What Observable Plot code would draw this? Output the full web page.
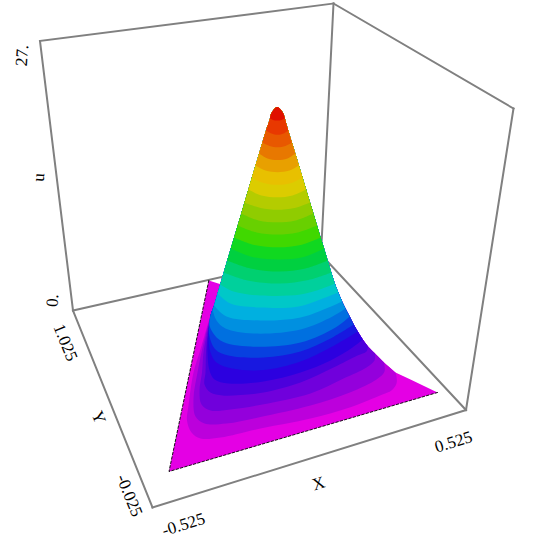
<!DOCTYPE html>
<html>
<head>
<meta charset="utf-8">
<style>html,body{margin:0;padding:0;background:#fff}svg{display:block}</style>
<script src="https://cdn.jsdelivr.net/npm/d3@7"></script>
<script src="https://cdn.jsdelivr.net/npm/@observablehq/plot@0.6"></script>
</head>
<body>
<div id="chart"></div>
<script>
// Tick and axis labels
const axisLabels = ["27.", "u", "0.", "1.025", "Y", "-0.025", "-0.525", "X", "0.525"];

// Box corners
const boxCorners = {A:[39.5,40.5], B:[333,3], C:[513,108], D:[465.5,409.5], E:[152,507], F:[72.5,310], G:[320.5,254]};
const boxEdges = ["AB","BC","CD","AF","FE","ED","FG","GD","BG"];

// Band colours, from u = 0 up to the peak
const bandColors = ["#e400e4","#bc00dc","#9400dc","#7000dc","#4c00dc","#2c00e0","#1818e0","#0840e0","#0070e0","#0090e0","#00b0e0","#00c8c8","#00d09c","#00d070","#00d040","#10d820","#40d800","#68d000","#90cc00","#b4cc00","#dccc00","#e8c000","#e8a000","#e87800","#e85800","#e83800","#e01000"];

// Outline of the surface
const apex = [276.7,106.5];
const leftSilhouette = [[273,109.5],[270.5,113.5],[269.5,118],[265.5,130],[261.9,142],[258.6,153],[255,165],[251.4,177],[247.9,189],[244,202],[240.8,213],[237.2,225],[233.6,237],[230.3,248],[226.7,260],[223.2,272],[219.7,284],[217,293],[213.5,305],[210.5,313]];
const rightSilhouette = [[437,392],[410,379],[395,372],[383.5,362],[374.5,353],[367.5,346],[362.3,339],[357.3,331],[353.2,324],[349.2,316],[345,308],[341.6,301],[337.8,292],[334.3,283],[330.8,272],[327.2,260],[323.6,248],[320.1,237],[316.5,225],[312.9,213],[309.5,202],[305.6,189],[302,177],[298.4,165],[294.8,153],[291.4,142],[287.7,130],[284.3,118],[283,113.5],[280.5,109.5]];
const triangleBase = [[168.5,471],[437,392],[208.3,280]];
const backCorner = [219.3,283.5];

// Visible front curve of each contour, u = 1 ... 26
const contourFronts = [
[[210.5,313],[204,335],[199,352],[193,372],[188,405],[186.5,420],[191,432],[200,438],[220,437],[260,428],[310,418],[350,406.7],[382,394],[391,390],[396,383],[396,376],[395,372]],
[[210.5,313],[205,335],[201,352],[197,372],[193,398],[195,416],[204,423],[226,423],[260,416.5],[310,405],[350,391.7],[376,379],[384,371],[383.5,362]],
[[210.5,313],[206,335],[203,352],[201.5,372],[199,390],[201,404],[210,410],[230,409],[262,404],[310,393],[343,378],[366,367],[374,360],[374.5,353]],
[[210.5,313],[207,335],[205.5,352],[205,372],[204,384],[210,392],[222,395],[240,394.5],[263,392],[300,382],[333,367],[357,355],[366,351],[367.5,346]],
[[210.5,313],[207.5,335],[207,352],[209,370],[214,379],[228,383],[263,381],[300,372],[330,360],[352,347],[362.3,339]],
[[210.5,313],[208,335],[210,352],[216,362],[232,368],[263,369.5],[300,361],[330,347],[357.3,331]],
[[210.5,313],[208.5,333],[215,349],[228,355],[263,357],[300,351],[330,338],[353.2,324]],
[[210.5,313],[209,325],[220,340],[250,346],[300,342],[335,327],[349.2,316]],
[[212,309],[216,320],[225,328],[253,333],[300,329],[332,316],[345,308]],
[[213.5,305],[226,316],[260,320],[300,317],[328,307],[341.6,301]],
[[217,293],[230,303],[260,307],[298,306],[325,297],[337.8,292]],
[[219.7,284],[233,291],[260,295],[300,294],[322,288],[334.3,283]],
[[223.2,272],[247,280],[279,283],[308,279.5],[330.8,272]],
[[226.7,260],[250,268],[279,271],[305,268],[327.2,260]],
[[230.3,248],[252,256.5],[279,259],[303,256.5],[323.6,248]],
[[233.6,237],[254,244.5],[278,246.8],[300,244.5],[320.1,237]],
[[237.2,225],[256,232],[277,234],[297,232],[316.5,225]],
[[240.8,213],[258,220],[277,221.8],[295,220],[312.9,213]],
[[244,202],[260,207.5],[277,209.3],[294,207.5],[309.5,202]],
[[247.9,189],[261,195],[277,196.8],[292,195],[305.6,189]],
[[251.4,177],[263,182.5],[277,184.3],[291,182.5],[302,177]],
[[255,165],[265,170],[277,171.7],[289,170],[298.4,165]],
[[258.6,153],[267,158],[277,159.5],[287,158],[294.8,153]],
[[261.9,142],[269,145.5],[277,146.8],[285,145.5],[291.4,142]],
[[265.5,130],[271,133],[277,134.3],[283,133],[287.7,130]],
[[269.5,118],[272.5,119.5],[277,120],[281,119.5],[284.3,118]]
];

const toRow = (p, level, color) => ({x: p[0], y: p[1], level, color});

// The magenta base: bottom edge, right outline over the top, notch, left edge
const basePath = [triangleBase[0], triangleBase[1], ...rightSilhouette.slice(1), apex, ...leftSilhouette.filter(p => p[1] < backCorner[1]), backCorner, triangleBase[2]];

// Painter's order: every level is the surface seen above that contour
const levelRows = contourFronts.flatMap((front, i) => {
  const start = front[0], end = front[front.length - 1];
  const path = [
    ...front, end,
    ...rightSilhouette.filter(p => p[1] < end[1]),
    apex,
    ...leftSilhouette.filter(p => p[1] < start[1]),
    start
  ];
  return path.map(p => toRow(p, i + 1, bandColors[i + 1]));
});

const boxRows = boxEdges.flatMap(e => [...e].map(c => ({x: boxCorners[c][0], y: boxCorners[c][1], edge: e})));

const placements = [[21.5,55,-86],[38,177,-86],[52,300,-86],[65,342,68],[98,417,68],[129,495,68],[183,524,-17],[318,483,-17],[453,441.5,-17]];
const labelRows = axisLabels.map((t, i) => ({text: t, x: placements[i][0], y: placements[i][1], angle: placements[i][2]}));

const chart = Plot.plot({
  width: 534, height: 545,
  margin: 0,
  style: {background: "#fff"},
  x: {domain: [0, 534], axis: null},
  y: {domain: [545, 0], axis: null},
  color: {type: "identity"},
  marks: [
    Plot.line(boxRows, {x: "x", y: "y", z: "edge", stroke: "#808080", strokeWidth: 2, strokeLinecap: "square"}),
    Plot.line(basePath.map(p => toRow(p, 0, bandColors[0])), {x: "x", y: "y", fill: "color", stroke: "none"}),
    Plot.line([triangleBase[2], triangleBase[0], triangleBase[1]].map(p => toRow(p, 0, "#000")), {x: "x", y: "y", stroke: "#000", strokeWidth: 0.9, strokeDasharray: "2.5 2", fill: "none"}),
    Plot.line(levelRows, {x: "x", y: "y", z: "level", fill: "color", stroke: "none", curve: "catmull-rom"}),
    Plot.text(labelRows, {x: "x", y: "y", text: "text", rotate: "angle", fontFamily: "Liberation Serif", fontSize: 17, fill: "#000"})
  ]
});
document.getElementById("chart").append(chart);
</script>
</body>
</html>
